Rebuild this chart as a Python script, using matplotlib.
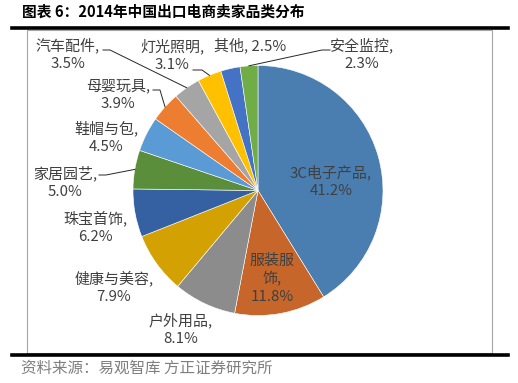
import numpy as np
import matplotlib
matplotlib.use('Agg')
from matplotlib import pyplot as plt
from matplotlib.lines import Line2D
from matplotlib.patches import Rectangle

plt.rcParams['font.family'] = ['Noto Sans CJK SC', 'DejaVu Sans']

W, H = 518, 383

title = '图表 6：2014年中国出口电商卖家品类分布'
source = '资料来源：易观智库 方正证券研究所'

categories = ['3C电子产品', '服装服饰', '户外用品', '健康与美容', '珠宝首饰', '家居园艺',
              '鞋帽与包', '母婴玩具', '汽车配件', '灯光照明', '其他', '安全监控']
shares = [41.2, 11.8, 8.1, 7.9, 6.2, 5.0, 4.5, 3.9, 3.5, 3.1, 2.5, 2.3]
colors = ['#4a7eb0', '#c6662b', '#8c8c8c', '#d4a102', '#3560a2', '#5b8e3a',
          '#5b9bd5', '#ed7d31', '#a5a5a5', '#ffc000', '#4472c4', '#70ad47']

# label block centres in pixels (x, y from top)
label_pos = [(331, 181), (272, 279), (181, 329), (114, 287), (95, 227), (65, 182),
             (106, 137), (118, 95), (68, 54), (172, 55), (250, 45), (362, 54)]
# leader line start points for labels that have one (index: [points])
leaders = {8: [(103, 50), (110, 50)],
           9: [(193, 70), (202, 70)],
           7: [(153, 90), (160, 90)],
           5: [(99, 175), (106, 175)],
           11: [(330, 50), (322, 50)]}


def fp(x, y):
    return x / W, 1 - y / H


fig = plt.figure(figsize=(W / 100, H / 100), dpi=100)

# chart box
fig.patches.append(Rectangle(fp(27, 353), 465 / W, 323 / H, transform=fig.transFigure,
                             fill=False, edgecolor='#a6a6a6', linewidth=0.8))
# heavy rules
for y in (28, 355):
    fig.add_artist(Line2D([12 / W, 508 / W], [1 - y / H] * 2, color='black', linewidth=2.6))

fig.text(*fp(22, 12), title, fontsize=10.6, fontweight='bold', color='black', ha='left', va='center')
fig.text(*fp(21, 368), source, fontsize=11.2, color='#7f7f7f', ha='left', va='center')

cx, cy, r = 258, 190.5, 125
ax = fig.add_axes([(cx - r) / W, (H - cy - r) / H, 2 * r / W, 2 * r / H])
wedges, _ = ax.pie(shares, colors=colors, startangle=90, counterclock=False,
                   wedgeprops=dict(edgecolor='white', linewidth=0.4))
ax.set_xlim(-1, 1)
ax.set_ylim(-1, 1)
ax.axis('off')

for i, (name, val) in enumerate(zip(categories, shares)):
    if i == 1:
        txt = '服装服\n饰,\n%.1f%%' % val
    elif i == 10:
        txt = '%s, %.1f%%' % (name, val)
    else:
        txt = '%s,\n%.1f%%' % (name, val)
    fig.text(*fp(*label_pos[i]), txt, fontsize=10.8, color='#404040', ha='center',
             va='center', linespacing=1.3)

fig.canvas.draw()
inv = fig.transFigure.inverted()
for i, pts in leaders.items():
    w = wedges[i]
    mid = np.deg2rad((w.theta1 + w.theta2) / 2)
    edge = inv.transform(ax.transData.transform((np.cos(mid), np.sin(mid))))
    xs = [fp(*p)[0] for p in pts] + [edge[0]]
    ys = [fp(*p)[1] for p in pts] + [edge[1]]
    fig.add_artist(Line2D(xs, ys, color='#262626', linewidth=0.7))

fig.savefig('out.png', dpi=100)
